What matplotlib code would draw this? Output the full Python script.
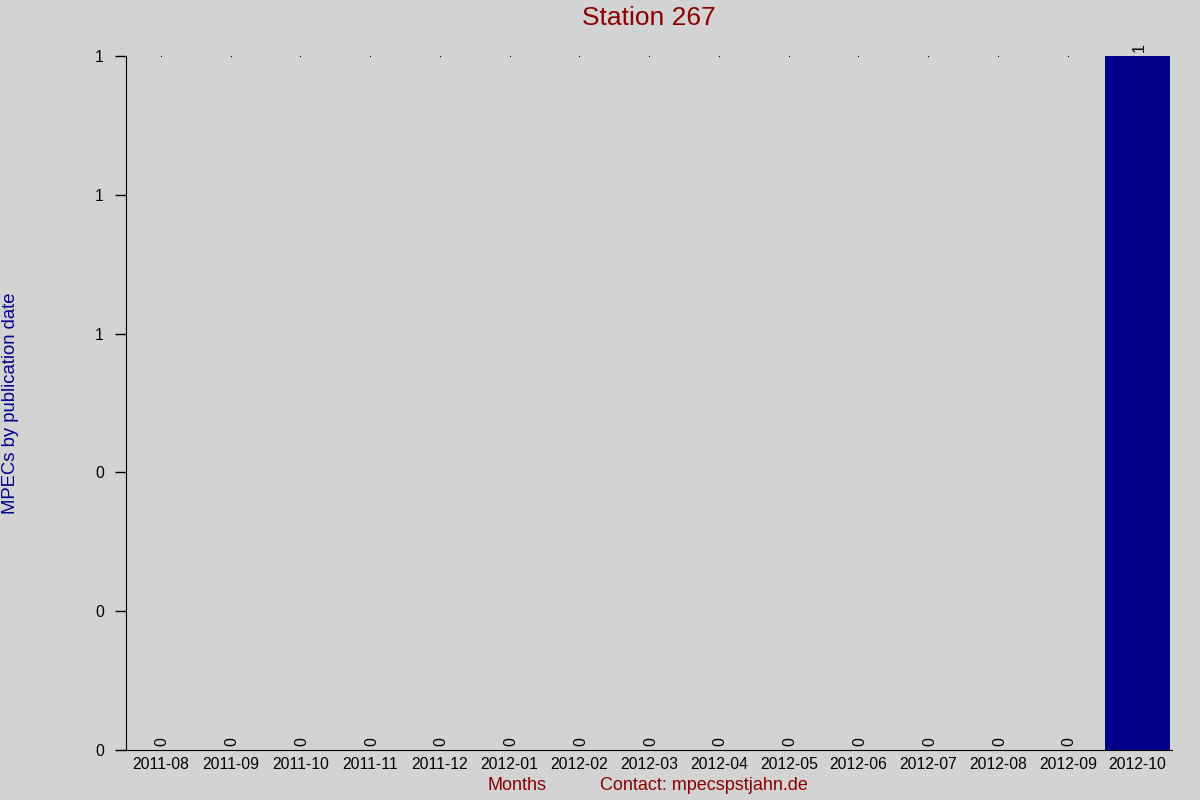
import matplotlib.pyplot as plt
import matplotlib as mpl
import numpy as np
from matplotlib.ticker import FuncFormatter

mpl.rcParams.update({
    'font.family': ['Liberation Sans', 'DejaVu Sans'],
    'font.size': 10.0,
})

months = ['2011-08', '2011-09', '2011-10', '2011-11', '2011-12', '2012-01',
          '2012-02', '2012-03', '2012-04', '2012-05', '2012-06', '2012-07',
          '2012-08', '2012-09', '2012-10']
counts = [0, 0, 0, 0, 0, 0, 0, 0, 0, 0, 0, 0, 0, 0, 1]
yticks = [0, 0.2, 0.4, 0.6, 0.8, 1.0]

bg = '#d3d3d3'
fig = plt.figure(figsize=(12, 8), dpi=100, facecolor=bg)
ax = fig.add_axes([0.105, 0.0625, 0.872, 0.8675], facecolor=bg)

x = np.arange(len(months))
ax.bar(x, counts, width=0.92, color='#00008b', zorder=2)

# tiny dots at the top for each month
ymax = max(counts)
zero_x = [i for i, c in zip(x, counts) if c == 0]
ax.plot(zero_x, [ymax] * len(zero_x), 's', color='black', markersize=0.8,
        markeredgewidth=0, zorder=1, clip_on=False)

for i, c in zip(x, counts):
    ax.annotate(str(c), (i, c), xytext=(1, 3), textcoords='offset points',
                rotation=90, ha='center', va='bottom', fontsize=11.5)

ax.set_xlim(-0.5, len(months) - 0.5)
ax.set_ylim(0, ymax)
ax.set_xticks(x)
ax.set_xticklabels(months)
ax.set_yticks(yticks)
ax.yaxis.set_major_formatter(FuncFormatter(lambda v, p: '%d' % round(v)))
ax.tick_params(axis='x', length=0, pad=5, labelsize=11.3)
ax.tick_params(axis='y', length=8, width=1, pad=8, labelsize=11.3)

ax.spines['top'].set_visible(False)
ax.spines['right'].set_visible(False)

fig.text(0.541, 0.978, 'Station 267', color='#8b0000', fontsize=19,
         ha='center', va='center')
fig.text(0.009, 0.496, 'MPECs by publication date', color='#00008b',
         fontsize=13.3, rotation=90, ha='center', va='center')
fig.text(0.431, 0.018, 'Months', color='#8b0000', fontsize=13,
         ha='center', va='center')
fig.text(0.587, 0.018, 'Contact: mpecspstjahn.de', color='#8b0000',
         fontsize=13, ha='center', va='center')

plt.savefig('out.png', dpi=100, facecolor=bg)
